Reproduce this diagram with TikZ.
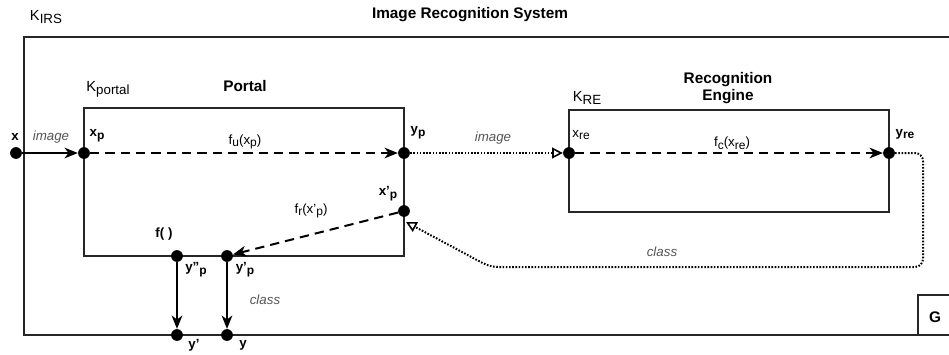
\documentclass[tikz,border=0pt]{standalone}
\usepackage{fontspec}
\setmainfont{Liberation Sans}
\usetikzlibrary{arrows.meta}
\newcommand{\sbs}[1]{\raisebox{-0.4ex}{\fontsize{9}{9}\selectfont #1}}
\newcommand{\ksbs}[1]{\raisebox{-0.4ex}{\fontsize{10}{10}\selectfont #1}}
\definecolor{lblgray}{HTML}{555555}
\tikzset{
  boxline/.style={line width=1.9pt, draw=black!85},
  dotnode/.style={circle, fill=black, inner sep=0pt, minimum size=8.8pt},
  lbl/.style={font=\fontsize{10}{12}\selectfont, inner sep=0pt},
  klbl/.style={font=\fontsize{11}{12}\selectfont, inner sep=0pt},
  blbl/.style={font=\fontsize{10}{12}\selectfont\bfseries, inner sep=0pt},
  ital/.style={font=\fontsize{10}{12}\selectfont\itshape, text=lblgray, inner sep=0pt},
  title/.style={font=\fontsize{11.5}{13}\selectfont\bfseries, inner sep=0pt, align=center},
  solidarrow/.style={line width=1.5pt, -{Stealth[length=10pt,width=8pt,inset=3pt]}},
  dasharrow/.style={line width=1.5pt, dash pattern=on 7pt off 4.5pt, -{Stealth[length=10pt,width=8pt,inset=3pt]}},
  dotarrow/.style={line width=1.5pt, dash pattern=on 1.2pt off 1.2pt, -{Triangle[open,length=8pt,width=8pt,line width=1.2pt]}}
}
\begin{document}
\begin{tikzpicture}[x=0.75pt,y=-0.75pt]
\useasboundingbox (0,0) rectangle (949,354);
% boxes
\draw[boxline] (952,37) -- (24,37) -- (24,335) -- (952,335);
\draw[boxline] (84,108) rectangle (404,256);
\draw[boxline] (569,110) rectangle (889,212);
\draw[boxline] (918,335) -- (918,295) -- (952,295);
% titles
\node[klbl] (kirs) at (46,17) {K\ksbs{IRS}};
\node[title] (tirs) at (470,15) {Image Recognition System};
\node[klbl] (kportal) at (108,89) {K\ksbs{portal}};
\node[title] (tportal) at (245,86) {Portal};
\node[klbl] (kre) at (587,98) {K\ksbs{RE}};
\node[title] (tre) at (728,88) {Recognition\\Engine};
\node[title] (tg) at (935,317) {G};
% dots
\node[dotnode] (dx) at (16,153) {};
\node[dotnode] (dxp) at (84,153) {};
\node[dotnode] (dyp) at (404,153) {};
\node[dotnode] (dxre) at (569,153) {};
\node[dotnode] (dyre) at (889,153) {};
\node[dotnode] (dxpp) at (404,211) {};
\node[dotnode] (dfp) at (177,256) {};
\node[dotnode] (dypp) at (227,256) {};
\node[dotnode] (dyo) at (177,335) {};
\node[dotnode] (dyy) at (227,335) {};
\coordinate (rtgt) at (406,222);
% connectors
\draw[solidarrow] (dx) -- (dxp);
\draw[dasharrow] (dxp) -- (dyp);
\draw[dotarrow] (dyp) -- (dxre);
\draw[dasharrow] (dxre) -- (dyre);
\draw[dotarrow, rounded corners=6pt] (dyre) -- (923,153) -- (923,267) -- (490,267) [sharp corners] -- (rtgt);
\draw[dasharrow] (dxpp) -- (dypp);
\draw[solidarrow] (dfp) -- (dyo);
\draw[solidarrow] (dypp) -- (dyy);
% labels
\node[blbl] (lx) at (15,137) {x};
\node[ital] (limg1) at (51,137) {image};
\node[blbl] (lxp) at (97,136) {x\sbs{p}};
\node[lbl] (lfu) at (245,142) {f\sbs{u}(x\sbs{p})};
\node[blbl] (lyp) at (418,133) {y\sbs{p}};
\node[ital] (limg2) at (493,138) {image};
\node[lbl] (lxre) at (581,135) {x\sbs{re}};
\node[lbl] (lfc) at (732,143) {f\sbs{c}(x\sbs{re})};
\node[blbl] (lyre) at (905,134) {y\sbs{re}};
\node[blbl] (lxpp) at (388,194) {x'\sbs{p}};
\node[lbl] (lfr) at (311,211) {f\sbs{r}(x'\sbs{p})};
\node[blbl] (lf) at (164,234) {f( )};
\node[blbl] (lypp2) at (196,270) {y''\sbs{p}};
\node[blbl] (lypp) at (245,270) {y'\sbs{p}};
\node[ital] (lcls1) at (265,300) {class};
\node[ital] (lcls2) at (662,252) {class};
\node[blbl] (lyo) at (194,345) {y'};
\node[blbl] (lyy) at (243,345) {y};
\end{tikzpicture}
\end{document}
